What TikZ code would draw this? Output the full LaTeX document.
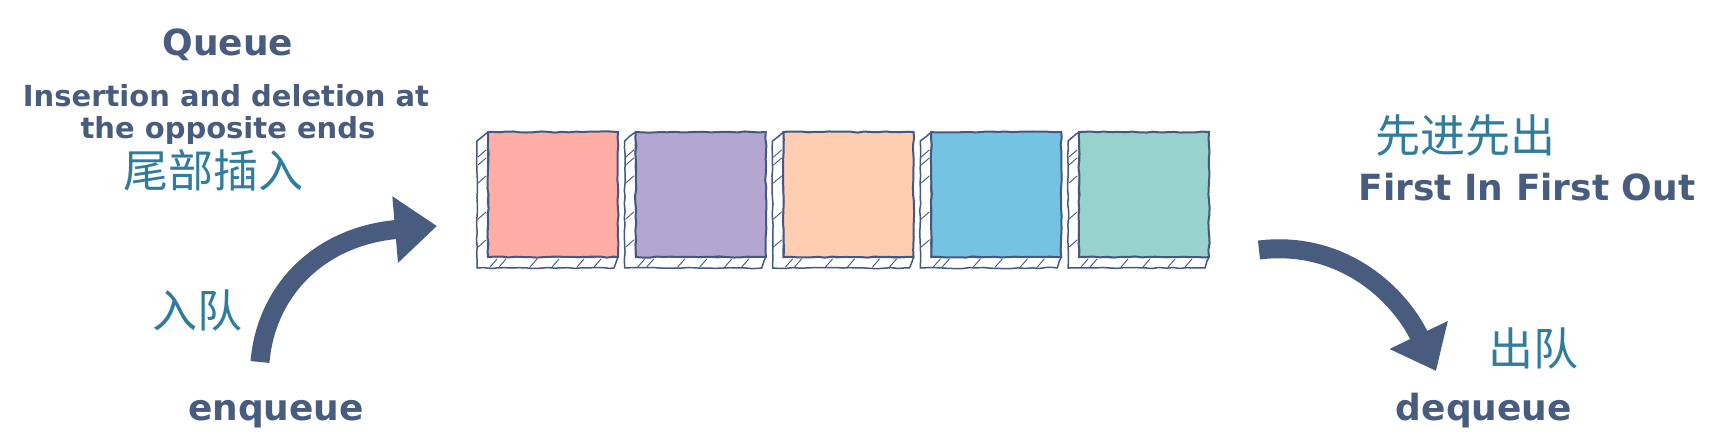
\documentclass[tikz,border=0pt]{standalone}
\usepackage{fontspec}
\setmainfont{DejaVu Sans}
\newfontfamily\cjk{Noto Sans CJK SC}
\usetikzlibrary{arrows.meta,decorations.pathmorphing}
\definecolor{ink}{HTML}{485C7F}
\definecolor{outl}{HTML}{45587F}
\definecolor{cjkc}{HTML}{2F7C9C}
\definecolor{c1}{HTML}{FFADA5}
\definecolor{c2}{HTML}{B3A7D1}
\definecolor{c3}{HTML}{FFCDB2}
\definecolor{c4}{HTML}{74C3E2}
\definecolor{c5}{HTML}{98D2CD}
\begin{document}
\begin{tikzpicture}[x=1pt,y=-1pt,
  lbl/.style={text=ink, font=\bfseries\fontsize{36}{40}\selectfont, inner sep=0pt},
  sublbl/.style={text=ink, font=\bfseries\fontsize{29}{32}\selectfont, inner sep=0pt},
  cjklbl/.style={text=cjkc, font=\cjk\fontsize{45}{50}\selectfont, inner sep=0pt},
  rough/.style={decorate, decoration={random steps,segment length=7pt,amplitude=0.6pt}},
  qface/.style={draw=outl, line width=2pt, minimum width=130pt, minimum height=125pt, inner sep=0pt, rough},
  qside/.style={draw=outl, fill=white, line width=1.5pt, line join=round, rough},
  hatch/.style={draw=outl, line width=0.9pt, line cap=round},
  brush/.style={draw=ink, line width=19pt}
]
\pgfmathsetseed{11}
\fill[white] (0,0) rectangle (1720,445);
\useasboundingbox (0,0) rectangle (1720,445);

% queue cells
\foreach \i/\x/\c in {1/488/c1, 2/635.75/c2, 3/783.5/c3, 4/931.25/c4, 5/1079/c5} {
  \draw[qside] (\x,132) -- (\x-11,141) -- (\x-11,268) -- (\x+126,268) -- (\x+130,257) -- (\x,257) -- cycle;
  \foreach \h in {150,158,176,212,240}
    \draw[hatch] (\x-10,\h+7) -- (\x-2,\h);
  \foreach \k in {8,17,48,70,95,112}
    \draw[hatch] (\x+\k-6,267) -- (\x+\k+1,259);
  \node[qface, fill=\c] (q\i) at (\x+65,194.5) {};
}

% texts
\node[lbl, anchor=base] (title) at (228,55) {Queue};
\node[sublbl, anchor=base] (sub1) at (226,106) {Insertion and deletion at};
\node[sublbl, anchor=base] (sub2) at (228,138) {the opposite ends};
\node[cjklbl] (tail) at (213,170) {尾部插入};
\node[cjklbl] (inq) at (197,310) {入队};
\node[lbl, anchor=base] (enq) at (276,420) {enqueue};
\node[cjklbl] (fifocn) at (1465,136) {先进先出};
\node[lbl, anchor=base] (fifo) at (1527,200) {First In First Out};
\node[cjklbl] (outq) at (1533,348) {出队};
\node[lbl, anchor=base] (deq) at (1484,420) {dequeue};

% arrows
\coordinate (inS) at (260,362);
\coordinate (inE) at (437,226);
\coordinate (outS) at (1259,250);
\coordinate (outE) at (1436,371);
\draw[brush, -{Triangle[length=42pt,width=64pt]}] (inS) .. controls (266,290) and (320,236) .. (inE);
\draw[brush, -{Triangle[length=40pt,width=62pt]}] (outS) .. controls (1340,240) and (1398,292) .. (outE);
\end{tikzpicture}
\end{document}
